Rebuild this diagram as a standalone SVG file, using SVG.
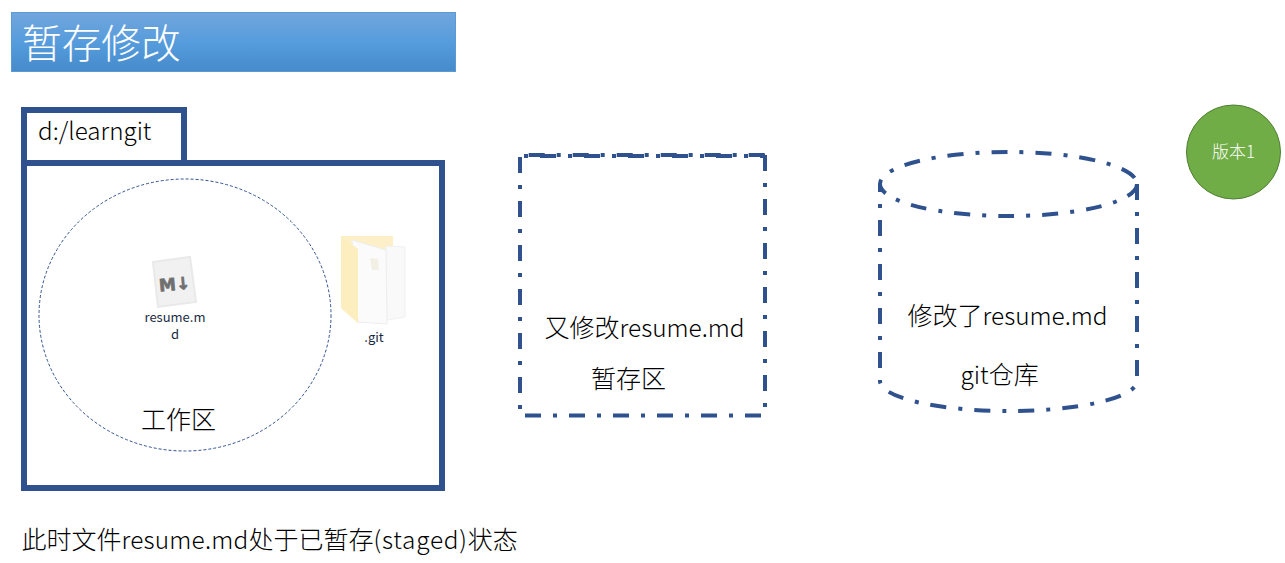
<svg xmlns="http://www.w3.org/2000/svg" width="1285" height="563" viewBox="0 0 1285 563">
<style>
text{font-family:"Noto Sans CJK SC","Noto Sans",sans-serif;fill:#000;font-weight:300}
.t{font-size:25px}
.l{font-size:24.400px}
.f{fill:#fff;stroke:#2f528f;stroke-width:6}
.d{fill:none;stroke:#2f528f;stroke-width:4;stroke-dasharray:16 12 4 12}
.s{font-size:13px;fill:#1a2a44;font-weight:400;text-anchor:middle}
</style>
<defs>
<linearGradient id="g" x1="0" y1="0" x2="0" y2="1"><stop offset="0" stop-color="#71a6dd"/><stop offset=".55" stop-color="#549bdc"/><stop offset="1" stop-color="#468bca"/></linearGradient>
</defs>
<rect width="1285" height="563" fill="#fff"/>
<g id="title"><rect x="11.500" y="12.500" width="444" height="59" fill="url(#g)" stroke="#5b9bd5"/><text x="22" y="58" style="font-size:39.700px;fill:#fff">暂存修改</text></g>
<g id="workspace">
<rect class="f" x="24" y="110" width="160" height="54"/>
<rect class="f" x="24" y="163" width="418" height="325"/>
<text x="38" y="140" style="font-size:24.200px">d:/learngit</text>
<ellipse cx="185" cy="315" rx="146" ry="136" fill="none" stroke="#2f528f" stroke-dasharray="3 2"/>
<text x="141" y="429" class="t">工作区</text>
</g>
<g id="resume-icon">
<polygon points="153,262 190,257 196,302 158,307" fill="#f1f1f1" stroke="#e9e9e9" stroke-width="2"/>
<text x="174.500" y="290" transform="rotate(-5 175 283)" style="font-size:17px;font-weight:900;fill:#707070;stroke:#707070;stroke-width:.7;text-anchor:middle;font-family:'DejaVu Sans',sans-serif">M↓</text>
<text x="175" y="322" class="s">resume.m</text><text x="175" y="339" class="s">d</text>
</g>
<g id="git-icon">
<polygon points="341,236 393,236 393,300 358,323 341,308" fill="#fdf0c8"/>
<polygon points="386,246 405,247 405,317 387,320" fill="#f9f9f9" stroke="#f0f0f0"/>
<polygon points="352,240 386,250 387,324 358,322" fill="#fbfbfb" stroke="#eeeeee"/>
<polygon points="370,258 378,259 379,270 372,270" fill="#f2f0e4"/>
<polygon points="341,236 358,249 358,323 341,308" fill="#fdeebf"/>
<text x="374" y="342" class="s">.git</text>
</g>
<g id="stage">
<path class="d" d="M765 155V415"/>
<path class="d" d="M765 415.500H520" stroke-dashoffset="40"/>
<path class="d" d="M520 415V155" stroke-dashoffset="22"/>
<path class="d" d="M520 155H765" stroke-dashoffset="35.300"/>
<path class="d" d="M520 156H765" stroke-dashoffset="24"/>
<text x="544.500" y="337"><tspan class="t">又修改</tspan><tspan class="l">resume.md</tspan></text>
<text x="591" y="388" class="t">暂存区</text>
</g>
<g id="repo">
<path class="d" d="M1137 184V381A128.500 30 0 0 1 880 381"/>
<path class="d" d="M880 381V184" stroke-dashoffset="31"/>
<ellipse class="d" cx="1008.500" cy="184" rx="128.500" ry="32"/>
<text x="907.500" y="325"><tspan class="t">修改了</tspan><tspan class="l">resume.md</tspan></text>
<text x="960.500" y="384"><tspan class="l">git</tspan><tspan class="t">仓库</tspan></text>
</g>
<g id="version"><circle cx="1233.500" cy="152" r="47" fill="#70ad47" stroke="#507e32"/><text x="1233.500" y="158" style="font-size:17px;fill:#fff;text-anchor:middle">版本1</text></g>
<g id="caption"><text x="21.500" y="549"><tspan class="t">此时文件</tspan><tspan class="l" style="letter-spacing:.2px">resume.md</tspan><tspan class="t">处于已暂存</tspan><tspan class="l" style="letter-spacing:.8px">(staged)</tspan><tspan class="t">状态</tspan></text></g>
<g id="connectors"></g>
</svg>
